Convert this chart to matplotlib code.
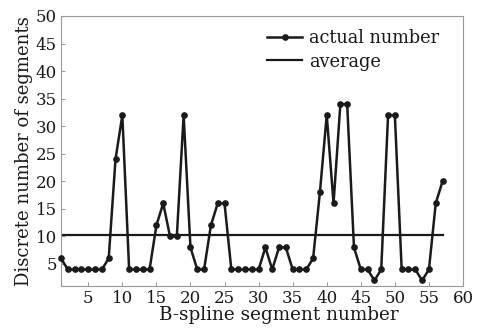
import matplotlib
matplotlib.use("Agg")
import matplotlib.pyplot as plt

segment_index = list(range(1, 58))
actual_number = [6, 4, 4, 4, 4, 4, 4, 6, 24, 32,
                 4, 4, 4, 4, 12, 16, 10, 10, 32, 8,
                 4, 4, 12, 16, 16, 4, 4, 4, 4, 4,
                 8, 4, 8, 8, 4, 4, 4, 6, 18, 32,
                 16, 34, 34, 8, 4, 4, 2, 4, 32, 32,
                 4, 4, 4, 2, 4, 16, 20]
average_value = 10.3
x_ticks = [5, 10, 15, 20, 25, 30, 35, 40, 45, 50, 55, 60]
y_ticks = [5, 10, 15, 20, 25, 30, 35, 40, 45, 50]

plt.rcParams['font.family'] = ['DejaVu Serif']
fig = plt.figure(figsize=(4.86, 3.33), dpi=100)
ax = fig.add_axes([61/486, 47/333, 402/486, 270/333])

ax.plot(segment_index, actual_number, color='#1a1a1a', lw=1.8, marker='o',
        markersize=3.8, label='actual number', clip_on=False, zorder=3)
ax.plot([segment_index[0], segment_index[-1]], [average_value, average_value],
        color='#1a1a1a', lw=1.6, label='average')

ax.set_xlim(1, 60)
ax.set_ylim(1, 50)
ax.set_xticks(x_ticks)
ax.set_yticks(y_ticks)
ax.tick_params(direction='in', length=3, width=0.6, color='#888888',
               labelsize=12, labelcolor='#1a1a1a', pad=3)
for s in ax.spines.values():
    s.set_color('#999999')
    s.set_linewidth(0.8)

ax.set_xlabel('B-spline segment number', fontsize=13.2, color='#1a1a1a', labelpad=1)
ax.xaxis.set_label_coords(0.541, -0.075)
ax.xaxis.label.set_verticalalignment('top')
ax.set_ylabel('Discrete number of segments', fontsize=13, color='#1a1a1a', labelpad=2)

leg = ax.legend(loc='upper right', frameon=False, fontsize=12.8,
                handlelength=2.0, handletextpad=0.4, labelspacing=0.3,
                bbox_to_anchor=(0.975, 1.0), borderaxespad=0.35)
for t in leg.get_texts():
    t.set_color('#1a1a1a')

fig.savefig('out.png', dpi=100)
